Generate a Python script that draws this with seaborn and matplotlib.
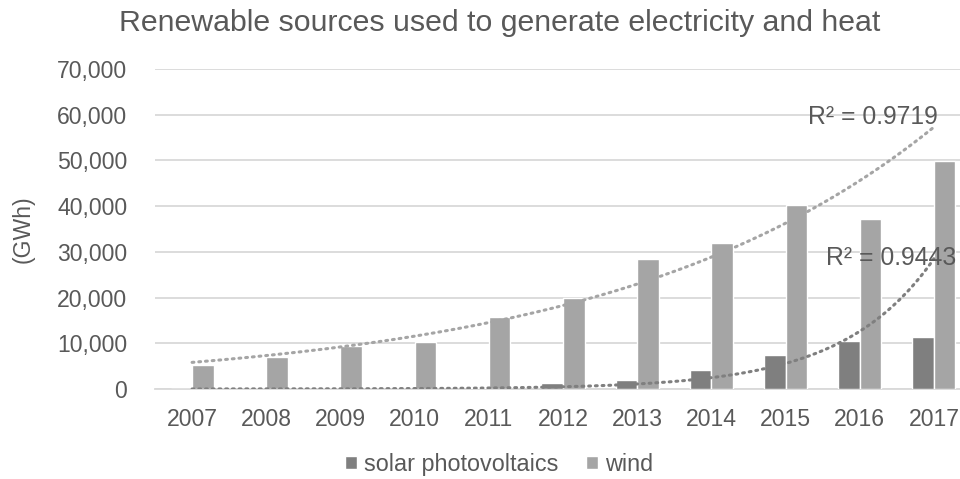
import numpy as np
import pandas as pd
import matplotlib
matplotlib.use("Agg")
import matplotlib.pyplot as plt
import seaborn as sns
from matplotlib.ticker import FuncFormatter

# values (GWh)
years = ["2007", "2008", "2009", "2010", "2011", "2012", "2013", "2014", "2015", "2016", "2017"]
solar = [11, 17, 20, 40, 244, 1350, 2010, 4050, 7530, 10400, 11460]
wind = [5270, 7100, 9300, 10180, 15750, 19850, 28400, 32000, 40300, 37260, 49900]
r2_labels = ["R² = 0.9719", "R² = 0.9443"]

text_col = "#595959"
solar_col = "#7f7f7f"
wind_col = "#a5a5a5"

sns.set_theme(style="white")
plt.rcParams["font.family"] = ["Liberation Sans", "DejaVu Sans"]

df = pd.DataFrame({
    "year": years * 2,
    "value": solar + wind,
    "source": ["solar photovoltaics"] * len(years) + ["wind"] * len(years),
})

fig = plt.figure(figsize=(9.6, 4.79), dpi=100)
ax = fig.add_axes([155 / 960, 90 / 479, 816 / 960, 320 / 479])

sns.barplot(data=df, x="year", y="value", hue="source",
            palette=[solar_col, wind_col], width=0.58, saturation=1,
            ax=ax, zorder=3)

# exponential trendlines (least squares on log values, like Excel)
xs = np.arange(len(years))
xf = np.linspace(0, len(years) - 1, 200)
for series, col in [(wind, wind_col), (solar, solar_col)]:
    b, a = np.polyfit(xs, np.log(series), 1)
    ax.plot(xf, np.exp(a + b * xf), linestyle=(0, (0.6, 1.6)), color=col,
            linewidth=2.2, dash_capstyle="round", zorder=4)

ax.text(8.3, 59500, r2_labels[0], color=text_col, fontsize=17.8, ha="left", va="center", zorder=5)
ax.text(8.55, 28700, r2_labels[1], color=text_col, fontsize=17.8, ha="left", va="center", zorder=5)

ax.set_ylim(0, 70000)
ax.set_xlim(-0.5, len(years) - 0.5)
ax.set_yticks(range(0, 70001, 10000))
ax.yaxis.set_major_formatter(FuncFormatter(lambda v, p: f"{int(v):,}"))
ax.grid(axis="y", color="#d9d9d9", linewidth=1.3, zorder=0)
ax.set_axisbelow(True)
for s in ["top", "right", "left"]:
    ax.spines[s].set_visible(False)
ax.spines["bottom"].set_color("#d9d9d9")
ax.spines["bottom"].set_linewidth(1.3)
ax.tick_params(axis="both", length=0, colors=text_col, labelsize=16.6)
ax.tick_params(axis="y", pad=20)
ax.tick_params(axis="x", pad=14)
ax.set_xlabel("")
ax.set_ylabel("(GWh)", color=text_col, fontsize=16.6, labelpad=16)

fig.text(0.521, 0.952, "Renewable sources used to generate electricity and heat",
         ha="center", va="center", color=text_col, fontsize=21.8)

handles, labels = ax.get_legend_handles_labels()
ax.legend_.remove()
fig.legend(handles, labels, loc="center", bbox_to_anchor=(0.52, 0.03), ncol=2,
           frameon=False, fontsize=16.8, labelcolor=text_col, handlelength=0.5,
           handleheight=0.5, handletextpad=0.3, columnspacing=1.2)

fig.savefig("out.png", dpi=100)
